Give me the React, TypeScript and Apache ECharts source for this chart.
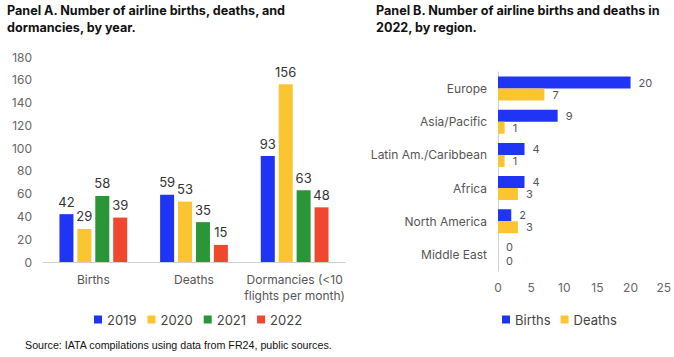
import React, { useEffect, useRef } from "react";
import * as echarts from "echarts";

const categoriesA = ["Births", "Deaths", "Dormancies (<10\nflights per month)"];
const years = ["2019", "2020", "2021", "2022"];
const values2019 = [42, 59, 93];
const values2020 = [29, 53, 156];
const values2021 = [58, 35, 63];
const values2022 = [39, 15, 48];
const yTicksA = [0, 180, 20];

const regions = ["Europe", "Asia/Pacific", "Latin Am./Caribbean", "Africa", "North America", "Middle East"];
const birthsB = [20, 9, 4, 4, 2, 0];
const deathsB = [7, 1, 1, 3, 3, 0];
const xTicksB = [0, 25, 5];

const colorsA = ["#1F34F5", "#FAC530", "#2A9638", "#F2472F"];
const font = "Inter, Roboto, sans-serif";

export default function App() {
  const ref = useRef<HTMLDivElement>(null);
  useEffect(() => {
    if (!ref.current) return;
    const chart = echarts.init(ref.current, undefined, { renderer: "svg" });
    const seriesA = [values2019, values2020, values2021, values2022].map((vals, i) => ({
      name: years[i],
      type: "bar" as const,
      xAxisIndex: 0,
      yAxisIndex: 0,
      data: vals,
      barWidth: 14,
      barGap: "28%",
      itemStyle: { color: colorsA[i] },
      label: {
        show: true,
        position: "top" as const,
        distance: 6,
        color: "#333",
        fontSize: 13,
        fontFamily: font,
      },
    }));
    const seriesB = [
      { name: "Births", data: birthsB, color: colorsA[0], shift: -1 },
      { name: "Deaths", data: deathsB, color: colorsA[1], shift: 1 },
    ].map((s) => ({
      name: s.name,
      type: "bar" as const,
      xAxisIndex: 1,
      yAxisIndex: 1,
      data: s.data.map((v) => (v === 0 ? { value: v, label: { offset: [0, s.shift] } } : v)),
      barWidth: 12,
      barGap: "0%",
      itemStyle: { color: s.color },
      label: {
        show: true,
        position: "right" as const,
        distance: 8,
        color: "#555",
        fontSize: 11,
        lineHeight: 11,
        fontFamily: font,
      },
    }));
    chart.setOption({
      animation: false,
      textStyle: { fontFamily: font },
      title: [
        {
          text: "Panel A. Number of airline births, deaths, and\ndormancies, by year.",
          left: 7,
          top: 2,
          padding: 0,
          textStyle: { fontSize: 12.6, fontWeight: "bold", color: "#111", lineHeight: 17, fontFamily: font },
        },
        {
          text: "Panel B. Number of airline births and deaths in\n2022, by region.",
          left: 376,
          top: 2,
          padding: 0,
          textStyle: { fontSize: 12.6, fontWeight: "bold", color: "#111", lineHeight: 17, fontFamily: font },
        },
      ],
      legend: [
        {
          data: years,
          left: 89,
          top: 308,
          itemWidth: 8,
          itemHeight: 8,
          itemGap: 11,
          icon: "rect",
          textStyle: { fontSize: 13, color: "#444", fontFamily: font },
        },
        {
          data: ["Births", "Deaths"],
          left: 497,
          top: 308,
          itemWidth: 8,
          itemHeight: 8,
          itemGap: 10,
          icon: "rect",
          textStyle: { fontSize: 13, color: "#444", fontFamily: font },
        },
      ],
      grid: [
        { left: 43, top: 57, width: 302, height: 205 },
        { left: 498, top: 72, width: 170, height: 199 },
      ],
      xAxis: [
        {
          type: "category",
          gridIndex: 0,
          data: categoriesA,
          axisLine: { lineStyle: { color: "#d0d0d0" } },
          axisTick: { show: false },
          axisLabel: { interval: 0, color: "#555", fontSize: 12, margin: 9, lineHeight: 16, fontFamily: font },
        },
        {
          type: "value",
          gridIndex: 1,
          min: xTicksB[0],
          max: xTicksB[1],
          interval: xTicksB[2],
          axisLine: { show: false },
          axisTick: { show: false },
          splitLine: { show: false },
          axisLabel: { color: "#666", fontSize: 12, margin: 10, fontFamily: font },
        },
      ],
      yAxis: [
        {
          type: "value",
          gridIndex: 0,
          min: yTicksA[0],
          max: yTicksA[1],
          interval: yTicksA[2],
          axisLine: { show: false },
          axisTick: { show: false },
          splitLine: { show: false },
          axisLabel: { color: "#666", fontSize: 12, margin: 11, fontFamily: font },
        },
        {
          type: "category",
          gridIndex: 1,
          data: regions,
          inverse: true,
          axisLine: { lineStyle: { color: "#d0d0d0" } },
          axisTick: { show: false },
          axisLabel: { interval: 0, color: "#555", fontSize: 12, margin: 11, fontFamily: font },
        },
      ],
      graphic: [
        {
          type: "text",
          left: 25,
          top: 339,
          style: {
            text: "Source: IATA compilations using data from FR24, public sources.",
            fontSize: 10.7,
            fill: "#111",
            fontFamily: "'Liberation Sans', Arial, sans-serif",
          },
        },
      ],
      series: [...seriesA, ...seriesB],
    });
    return () => chart.dispose();
  }, []);
  return <div ref={ref} style={{ width: 674, height: 357, position: "absolute", left: 0, top: 0 }} />;
}
